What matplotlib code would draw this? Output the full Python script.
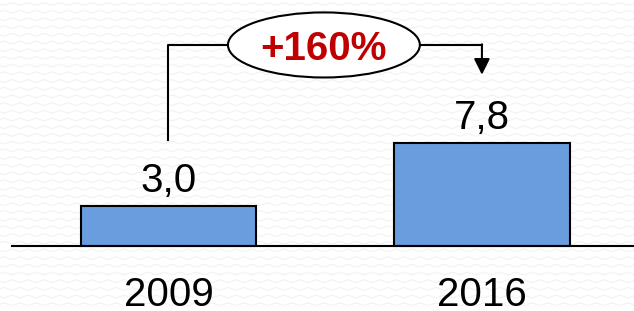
import matplotlib
matplotlib.use('Agg')
import matplotlib.pyplot as plt, numpy as np
from matplotlib.patches import Ellipse

# Chart data
years = ['2009', '2016']
values = [3.0, 7.8]
value_labels = ['3,0', '7,8']
growth_label = '+160%'

plt.rcParams['font.family'] = ['Liberation Sans', 'DejaVu Sans']

fig = plt.figure(figsize=(6.34, 3.11), dpi=100)
fig.patch.set_facecolor('white')

# Faint wavy background texture
bg = fig.add_axes([0, 0, 1, 1], zorder=0)
bg.set_xlim(0, 634)
bg.set_ylim(311, 0)
bg.axis('off')
xs = np.linspace(0, 634, 800)
for i, row in enumerate(np.arange(4, 311, 7.7)):
    bg.plot(xs, row + 1.2 * np.sin(2 * np.pi * (xs + 8 * (i % 2)) / 16), color='#f3f3f3', lw=0.9)

# Main axes covering the whole figure
ax = fig.add_axes([0, 0, 1, 1], zorder=1)
ax.patch.set_alpha(0)
ax.axis('off')
ax.set_xlim(-0.537, 1.485)
ax.set_ylim(-4.92, 18.6)

x = np.arange(len(years))
ax.bar(x, values, width=0.56, color='#6A9DDE', edgecolor='black', linewidth=1.5, zorder=3)
ax.axhline(0, xmin=12 / 634, xmax=1, color='black', lw=1.5, zorder=4)

# Value labels above bars and year labels below
for xi, v, lab, yr in zip(x, values, value_labels, years):
    ax.annotate(lab, (xi, v), xytext=(0, 10), textcoords='offset points',
                ha='center', va='baseline', fontsize=29)
    ax.annotate(yr, (xi, 0), xytext=(0, -43), textcoords='offset points',
                ha='center', va='baseline', fontsize=29)

# Growth bracket with ellipse label
yb = 15.2
ax.plot([x[0], x[0], x[1]], [8.0, yb, yb], color='black', lw=1.5, zorder=3)
ax.annotate('', xy=(x[1], 12.95), xytext=(x[1], yb + 0.05),
            arrowprops=dict(arrowstyle='-|>,head_width=0.4,head_length=0.8',
                            mutation_scale=12, color='black', lw=1.5,
                            shrinkA=0, shrinkB=0), zorder=3)
ax.add_patch(Ellipse((0.496, yb), 0.612, 4.92, facecolor='white',
                     edgecolor='black', lw=1.5, zorder=5))
ax.text(0.496, yb, growth_label, ha='center', va='center_baseline', fontsize=29,
        fontweight='bold', color='#C00000', zorder=6)

fig.savefig('out.png', dpi=100)
